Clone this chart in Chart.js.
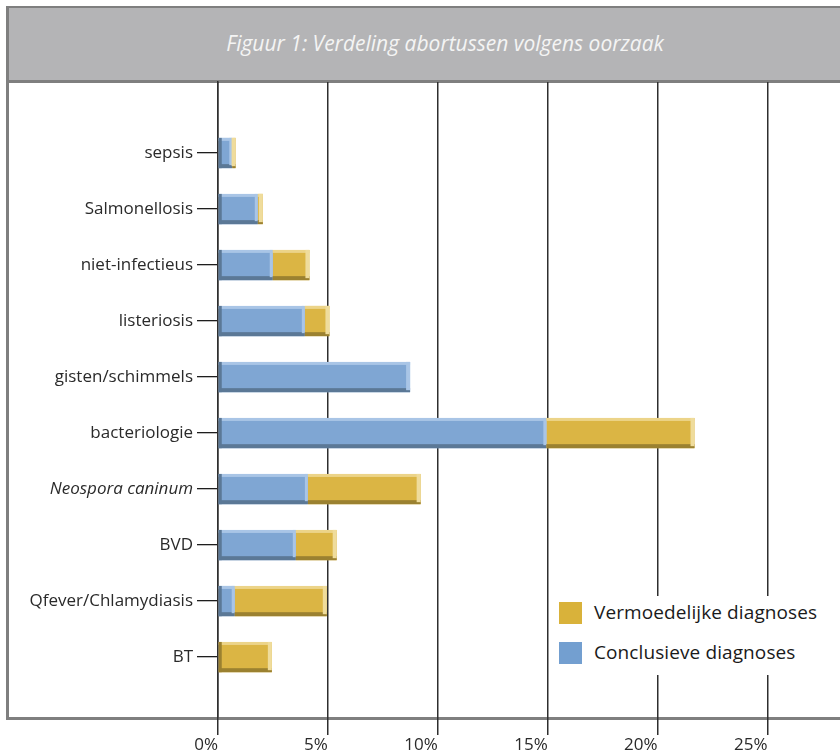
<!DOCTYPE html>
<html>
<head>
<meta charset="utf-8">
<script src="https://cdn.jsdelivr.net/npm/chart.js@4.4.1/dist/chart.umd.min.js"></script>
<style>
  html, body { margin: 0; padding: 0; background: #fff; }
  #wrap { position: relative; width: 840px; height: 753px; overflow: hidden; }
  #frame { position: absolute; left: 6px; top: 6px; width: 850px; height: 709px;
           border-left: 3px solid #7f7f7f; border-top: 2px solid #7f7f7f; border-bottom: 3px solid #7f7f7f; }
  #band { position: absolute; left: 9px; top: 8px; width: 840px; height: 72px; background: #b4b4b6;
          border-bottom: 3px solid #7f7f7f; }
  #title { position: absolute; left: 0; top: 29px; width: 890px; text-align: center;
           font-family: "Liberation Sans Narrow", "Open Sans", sans-serif; font-style: italic;
           font-size: 21px; color: #f4f4f4; }
  canvas { position: absolute; left: 0; top: 0; }
  #legbox { position: absolute; left: 550px; top: 596px; width: 300px; height: 79px; background: #fff; }
  .leg { position: absolute; left: 559px; font-family: "Open Sans", sans-serif; font-size: 19px; color: #1a1a1a; }
  .leg span.sw { position: absolute; left: 0; top: 0; width: 23px; height: 22px; }
  .leg span.tx { position: absolute; left: 35px; top: -3px; white-space: nowrap; letter-spacing: 0.1px; }
</style>
</head>
<body>
<div id="wrap">
  <div id="frame"></div>
  <div id="band"></div>
  <div id="title">Figuur 1: Verdeling abortussen volgens oorzaak</div>
  <canvas id="c" width="840" height="753"></canvas>
  <div id="legbox"></div>
  <div class="leg" style="top:602px"><span class="sw" style="background:#d9b23a"></span><span class="tx">Vermoedelijke diagnoses</span></div>
  <div class="leg" style="top:642px"><span class="sw" style="background:#739fd0"></span><span class="tx">Conclusieve diagnoses</span></div>
</div>
<script>
const categories = ["sepsis", "Salmonellosis", "niet-infectieus", "listeriosis", "gisten/schimmels",
  "bacteriologie", "Neospora caninum", "BVD", "Qfever/Chlamydiasis", "BT"];
const conclusive = [0.65, 1.81, 2.49, 3.95, 8.74, 14.94, 4.09, 3.54, 0.76, 0];
const presumed   = [0.15, 0.23, 1.67, 1.12, 0,    6.74,  5.13, 1.86, 4.19, 2.45];
const xTicks = [0, 5, 10, 15, 20, 25];
const italicCategory = "Neospora caninum";

const bevel = {
  id: 'bevel',
  afterDatasetsDraw(chart) {
    const ctx = chart.ctx;
    const shades = [
      { top: '#a9c5e6', bottom: '#5b7896', right: '#a9c5e6', left: '#5b7896' },
      { top: '#ecd489', bottom: '#9b8130', right: '#efdc9c', left: '#9b8130' }
    ];
    chart.data.datasets.forEach((ds, di) => {
      const meta = chart.getDatasetMeta(di);
      const s = shades[di];
      meta.data.forEach((el, i) => {
        const { x, y, base, height } = el.getProps(['x', 'y', 'base', 'height'], true);
        const w = x - base;
        if (w <= 0.5) return;
        const t = y - height / 2, b = y + height / 2;
        ctx.save();
        ctx.fillStyle = s.top;
        ctx.fillRect(base, t, w, 3);
        ctx.fillStyle = s.bottom;
        ctx.fillRect(base, b - 4, w, 4);
        const isLast = di === 1 || presumed[i] === 0;
        ctx.fillStyle = s.right;
        if (isLast) ctx.fillRect(x - 4, t, 4, height - 2);
        else ctx.fillRect(x - 3, t, 3, height - 3);
        if (di === 0 || conclusive[i] === 0) { ctx.fillStyle = s.left; ctx.fillRect(base, t, 3, height); }
        ctx.restore();
      });
    });
  }
};

new Chart(document.getElementById('c'), {
  type: 'bar',
  data: {
    labels: categories.map((_, i) => i),
    datasets: [
      { label: 'Conclusieve diagnoses', data: conclusive.map((v, i) => ({ x: v, y: i })), backgroundColor: '#7fa6d3', barPercentage: 0.54, categoryPercentage: 1 },
      { label: 'Vermoedelijke diagnoses', data: presumed.map((v, i) => ({ x: v, y: i })), backgroundColor: '#dbb544', barPercentage: 0.54, categoryPercentage: 1 }
    ]
  },
  options: {
    indexAxis: 'y',
    responsive: false,
    animation: false,
    layout: { padding: { top: 82, left: 0, right: 0, bottom: 0 } },
    plugins: { legend: { display: false }, tooltip: { enabled: false }, title: { display: false } },
    scales: {
      x: {
        type: 'linear', stacked: true, min: 0, max: 28.3,
        afterBuildTicks: sc => { sc.ticks = xTicks.map(v => ({ value: v })); },
        afterFit: sc => { sc.height = 36; },
        grid: { color: '#2e2e2e', lineWidth: 1.5, drawTicks: true, tickLength: 18 },
        border: { display: false },
        ticks: {
          align: 'end', padding: 0, color: '#2a2a2a',
          font: { family: '"Liberation Sans Narrow", "Open Sans", sans-serif', size: 17 },
          callback: v => v + '%'
        }
      },
      y: {
        type: 'linear', stacked: true, reverse: true, min: -1.268, max: 10.07,
        offset: false,
        afterBuildTicks: sc => { sc.ticks = categories.map((_, i) => ({ value: i })); },
        afterFit: sc => { sc.width = 218; },
        grid: { offset: false, drawOnChartArea: false, drawTicks: true, tickLength: 21, color: '#1e1e1e', lineWidth: 1.3 },
        border: { display: true, color: '#2e2e2e', width: 1.5 },
        ticks: {
          padding: 4, color: '#2a2a2a',
          font: ctx => ({ family: '"Open Sans", sans-serif', size: 17,
                          style: categories[ctx.index] === italicCategory ? 'italic' : 'normal' }),
          callback: v => categories[v]
        }
      }
    }
  },
  plugins: [bevel]
});
</script>
</body>
</html>
